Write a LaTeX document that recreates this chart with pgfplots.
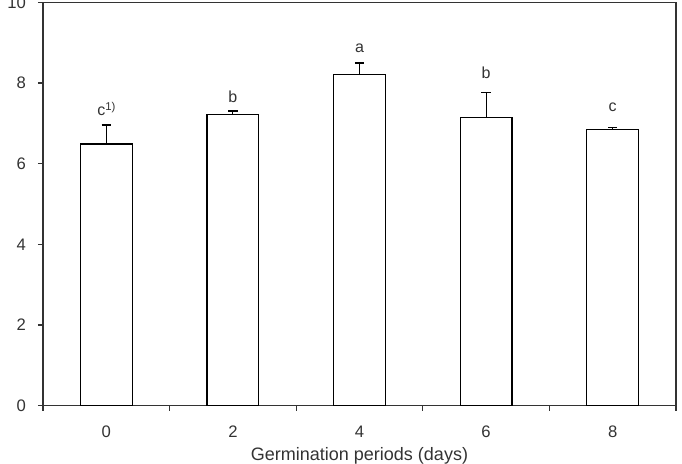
\documentclass[border=0pt]{standalone}
\usepackage{pgfplots}
\pgfplotsset{compat=1.18}
\usepackage{fontspec}
\setmainfont{Liberation Sans}
\definecolor{axgray}{HTML}{333333}
\begin{document}
\begin{tikzpicture}
\begin{axis}[
  at={(0,0)}, anchor=south west,
  scale only axis,
  width=474.75pt, height=302.25pt,
  xmin=-0.5, xmax=4.5, ymin=0, ymax=10,
  axis line style={axgray, line width=1pt},
  every tick/.style={axgray, line width=0.9pt},
  tick align=outside,
  xtick pos=bottom, ytick pos=left,
  major tick length=3.75pt,
  xtick={-0.5,0.5,1.5,2.5,3.5,4.5},
  xticklabels={},
  extra x ticks={0,1,2,3,4},
  extra x tick labels={0,2,4,6,8},
  extra x tick style={major tick length=0pt, tick label style={anchor=center, yshift=-19.5pt}},
  ytick={0,2,4,6,8,10},
  tick label style={font=\fontsize{12.5}{14}\selectfont, text=axgray},
  y tick label style={xshift=-5.5pt},
  /pgf/number format/assume math mode=true,
  xlabel={Germination periods (days)},
  xlabel style={at={(rel axis cs:0.5,0)}, anchor=center, yshift=-38pt, font=\fontsize{13.5}{15}\selectfont, text=axgray},
  ybar, bar width=0.41,
  clip=false,
]
\addplot[draw=black, fill=white, line width=0.9pt,
  error bars/.cd, y dir=plus, y explicit,
  error bar style={black, line width=0.9pt},
  error mark options={rotate=90, mark size=3.5pt, line width=0.9pt}]
  coordinates {
  (0,6.49) +- (0,0.47)
  (1,7.23) +- (0,0.08)
  (2,8.21) +- (0,0.29)
  (3,7.15) +- (0,0.62)
  (4,6.84) +- (0,0.05)
  };
\begin{scope}[every node/.style={font=\fontsize{12}{14}\selectfont, text=axgray}]
\node at (axis cs:0,7.36) {c\raisebox{0.6ex}{\fontsize{8.5}{9}\selectfont 1)}};
\node at (axis cs:1,7.66) {b};
\node at (axis cs:2,8.86) {a};
\node at (axis cs:3,8.26) {b};
\node at (axis cs:4,7.40) {c};
\end{scope}
\end{axis}
\pgfresetboundingbox
\useasboundingbox (-32.25pt,-43.875pt) rectangle (479.25pt,304.125pt);
\end{tikzpicture}
\end{document}
